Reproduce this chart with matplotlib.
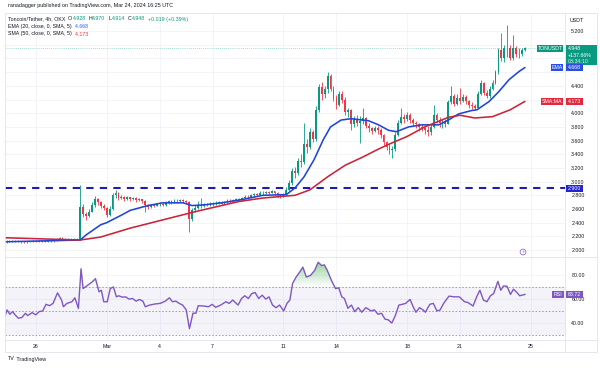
import numpy as np
import pandas as pd
import matplotlib
matplotlib.use("Agg")
import matplotlib.pyplot as plt
from matplotlib.patches import Rectangle
from matplotlib.lines import Line2D
from matplotlib.path import Path
from matplotlib.colors import LinearSegmentedColormap

plt.rcParams['font.family'] = ['Liberation Sans', 'DejaVu Sans']

# ---- data (TON/USDT 4h) ----
start = pd.Timestamp('2024-02-24 04:00')
first_open = 2.09
close = [
    2.11, 2.13, 2.12, 2.13, 2.12, 2.13, 2.12, 2.11, 2.12, 2.12,
    2.13, 2.12, 2.13, 2.12, 2.12, 2.13, 2.14, 2.13, 2.16, 2.18,
    2.16, 2.15, 2.16, 2.15, 2.16, 2.15, 2.63, 2.52, 2.50, 2.56,
    2.66, 2.74, 2.70, 2.65, 2.62, 2.51, 2.60, 2.80, 2.84, 2.76,
    2.78, 2.75, 2.77, 2.75, 2.76, 2.73, 2.74, 2.72, 2.66, 2.63,
    2.66, 2.65, 2.67, 2.68, 2.66, 2.69, 2.71, 2.70, 2.72, 2.71,
    2.73, 2.71, 2.70, 2.45, 2.58, 2.62, 2.66, 2.65, 2.67, 2.66,
    2.68, 2.67, 2.69, 2.70, 2.68, 2.70, 2.72, 2.71, 2.73, 2.74,
    2.73, 2.76, 2.78, 2.77, 2.80, 2.82, 2.81, 2.84, 2.83, 2.85,
    2.84, 2.86, 2.83, 2.80, 2.78, 2.82, 2.88, 2.98, 3.15, 3.12,
    3.30, 3.28, 3.55, 3.50, 3.72, 3.62, 4.05, 4.38, 4.28, 4.36,
    4.55, 4.36, 4.22, 4.12, 4.28, 4.20, 4.02, 4.04, 3.84, 3.92,
    3.86, 3.88, 3.93, 3.82, 3.78, 3.74, 3.78, 3.76, 3.68, 3.58,
    3.50, 3.46, 3.48, 3.68, 3.86, 3.95, 3.92, 3.98, 3.90, 3.86,
    3.84, 3.80, 3.78, 3.76, 3.72, 3.80, 3.98, 3.90, 3.85, 3.88,
    3.84, 4.16, 4.25, 4.14, 4.22, 4.18, 4.24, 4.18, 4.12, 4.10,
    4.08, 4.28, 4.44, 4.30, 4.25, 4.36, 4.44, 4.60, 4.92, 4.80,
    4.95, 4.96, 4.80, 4.96, 4.86, 4.86, 4.928, 4.948]
high = [
    2.12, 2.14, 2.14, 2.14, 2.14, 2.14, 2.13, 2.13, 2.13, 2.13,
    2.14, 2.14, 2.14, 2.14, 2.13, 2.14, 2.15, 2.15, 2.18, 2.19,
    2.19, 2.17, 2.17, 2.17, 2.17, 2.17, 2.95, 2.67, 2.55, 2.60,
    2.70, 2.79, 2.76, 2.71, 2.68, 2.63, 2.64, 2.83, 2.88, 2.85,
    2.80, 2.79, 2.79, 2.78, 2.78, 2.77, 2.76, 2.75, 2.73, 2.68,
    2.68, 2.68, 2.69, 2.70, 2.70, 2.71, 2.73, 2.73, 2.74, 2.74,
    2.75, 2.74, 2.73, 2.71, 2.62, 2.66, 2.72, 2.76, 2.69, 2.69,
    2.70, 2.70, 2.71, 2.72, 2.71, 2.72, 2.74, 2.74, 2.75, 2.76,
    2.76, 2.78, 2.80, 2.80, 2.82, 2.84, 2.84, 2.86, 2.86, 2.87,
    2.87, 2.88, 2.87, 2.85, 2.82, 2.84, 2.92, 3.02, 3.20, 3.22,
    3.35, 3.40, 3.85, 3.62, 3.78, 3.76, 4.10, 4.42, 4.45, 4.40,
    4.60, 4.58, 4.40, 4.26, 4.32, 4.32, 4.24, 4.08, 4.06, 3.96,
    3.98, 3.96, 4.08, 3.95, 3.86, 3.80, 3.82, 3.81, 3.78, 3.70,
    3.60, 3.55, 3.52, 3.72, 3.90, 4.07, 3.99, 4.02, 4.00, 3.93,
    3.88, 3.86, 3.84, 3.80, 3.82, 3.84, 4.12, 4.00, 3.94, 3.92,
    3.92, 4.20, 4.40, 4.28, 4.28, 4.37, 4.28, 4.26, 4.20, 4.16,
    4.14, 4.32, 4.48, 4.46, 4.34, 4.40, 4.48, 4.63, 4.96, 5.17,
    4.99, 5.29, 4.99, 5.14, 4.98, 4.95, 4.95, 4.970]
low = [
    2.08, 2.10, 2.11, 2.11, 2.11, 2.11, 2.10, 2.10, 2.10, 2.11,
    2.11, 2.11, 2.11, 2.11, 2.11, 2.12, 2.12, 2.12, 2.13, 2.15,
    2.15, 2.14, 2.14, 2.14, 2.14, 2.14, 2.14, 2.48, 2.44, 2.48,
    2.55, 2.63, 2.66, 2.62, 2.58, 2.48, 2.50, 2.58, 2.76, 2.73,
    2.74, 2.72, 2.73, 2.72, 2.73, 2.70, 2.71, 2.69, 2.55, 2.60,
    2.62, 2.63, 2.64, 2.65, 2.64, 2.65, 2.67, 2.68, 2.69, 2.69,
    2.70, 2.69, 2.68, 2.27, 2.42, 2.55, 2.60, 2.62, 2.63, 2.64,
    2.65, 2.65, 2.66, 2.67, 2.66, 2.67, 2.69, 2.69, 2.70, 2.71,
    2.71, 2.72, 2.75, 2.75, 2.76, 2.78, 2.79, 2.80, 2.81, 2.82,
    2.82, 2.83, 2.81, 2.78, 2.76, 2.77, 2.80, 2.86, 2.95, 3.05,
    3.10, 3.22, 3.26, 3.42, 3.48, 3.58, 3.60, 4.02, 4.20, 4.22,
    4.30, 4.32, 4.18, 4.06, 4.10, 4.15, 3.98, 3.95, 3.76, 3.80,
    3.82, 3.56, 3.84, 3.78, 3.72, 3.70, 3.72, 3.70, 3.64, 3.54,
    3.46, 3.40, 3.35, 3.45, 3.66, 3.84, 3.86, 3.88, 3.86, 3.82,
    3.78, 3.74, 3.74, 3.70, 3.66, 3.68, 3.78, 3.85, 3.80, 3.78,
    3.80, 3.84, 4.14, 4.10, 4.12, 4.14, 4.16, 4.14, 4.08, 4.06,
    4.05, 4.06, 4.26, 4.26, 4.22, 4.22, 4.34, 4.42, 4.58, 4.76,
    4.75, 4.82, 4.78, 4.78, 4.82, 4.80, 4.84, 4.914]

# moving averages, sampled at candle positions
ema_x = [0, 26, 28, 33, 35, 40, 43, 49, 54, 61, 64, 68, 74, 80, 88, 96, 99, 102,
         105.4, 108.5, 111, 114.6, 118, 123.9, 127.3, 130.7, 133.4, 137.5, 142,
         147.7, 151, 154.5, 159, 160.7, 164.8, 168, 171.6, 175, 177]
ema_v = [2.12, 2.146, 2.22, 2.37, 2.40, 2.51, 2.58, 2.65, 2.69, 2.69, 2.65, 2.66,
         2.69, 2.73, 2.80, 2.81, 2.91, 3.07, 3.32, 3.61, 3.80, 3.90, 3.92, 3.89,
         3.83, 3.75, 3.73, 3.80, 3.83, 3.83, 3.90, 3.99, 4.04, 4.05, 4.17, 4.31,
         4.49, 4.61, 4.668]
sma_x = [0, 26, 33, 43, 65, 80, 88, 99, 104, 110, 116, 122, 127, 131, 137, 143,
         151, 155, 160, 166, 172, 177]
sma_v = [2.18, 2.146, 2.19, 2.32, 2.56, 2.71, 2.76, 2.80, 2.88, 3.07, 3.24, 3.36,
         3.47, 3.55, 3.66, 3.80, 3.94, 3.97, 3.93, 3.95, 4.05, 4.173]

rsi_x = [0, 1.2, 2.1, 3.1, 3.9, 5, 6.2, 7.4, 8.2, 9.7,
         10.9, 12.1, 13.3, 14.4, 15.6, 16.8, 18.3, 19.7, 20.3, 21.5,
         23.2, 24.2, 25.4, 26.3, 27, 28.5, 30, 31.2, 32.4, 33.2,
         34, 35.2, 36.2, 37.3, 38.3, 39.1, 40.3, 41.4, 42.6, 43.8,
         45, 46.1, 47.3, 48.1, 49.6, 51.4, 53.2, 54.9, 56.3, 57.3,
         58.5, 59.6, 60.8, 62, 63.1, 64.3, 65.3, 66.1, 67.8, 69.6,
         70.8, 72, 73.7, 75.5, 76.6, 77.8, 79.6, 80.8, 81.9, 83.1,
         84.3, 85.4, 86.6, 87.8, 89, 90.1, 91.3, 92.5, 93.7, 95.1,
         96.2, 97.2, 98.1, 99.3, 100.5, 101.6, 102.8, 104.2, 105.6, 106.8,
         108, 108.9, 109.9, 111.3, 112.7, 113.8, 114.8, 115.7, 116.9, 118.1,
         119.2, 120.4, 121.6, 123, 124.8, 125.9, 127.1, 128.3, 129.5, 130.6,
         131.8, 133, 134.2, 135.3, 136.5, 138, 139.2, 140, 141.2, 142.4,
         143.2, 144.7, 145.9, 147.1, 148.2, 149.4, 151.2, 152.9, 154.7, 156.5,
         157.6, 159.4, 160.6, 161.7, 162.9, 164.1, 165.3, 166.4, 167.8, 168.8,
         169.7, 170.9, 172.1, 173.1, 174.3, 175.2, 177]
rsi_v = [42.4, 50.7, 47.1, 49.3, 46.6, 43.8, 44.3, 47.9, 46.0, 48.5,
         46.6, 49.3, 49.9, 55.4, 54.3, 56.2, 65.0, 59.0, 53.4, 56.2,
         57.6, 60.9, 52.0, 85.2, 68.6, 71.4, 74.1, 76.9, 65.9, 67.2,
         57.6, 57.6, 68.6, 70.0, 61.7, 62.6, 61.4, 61.7, 59.8, 60.3,
         58.1, 59.5, 58.1, 53.4, 54.8, 55.7, 56.2, 58.1, 60.9, 57.6,
         58.1, 56.2, 54.8, 50.7, 35.0, 48.0, 48.0, 54.3, 54.0, 53.4,
         55.4, 52.9, 54.8, 57.6, 56.2, 59.0, 54.8, 60.3, 62.6, 60.3,
         64.5, 65.3, 60.3, 63.1, 59.8, 61.7, 54.8, 52.6, 54.8, 49.9,
         56.2, 59.0, 72.8, 78.3, 82.4, 86.6, 78.3, 79.7, 83.8, 90.7,
         87.9, 88.5, 83.8, 75.5, 68.6, 69.2, 61.7, 60.3, 52.1, 54.8,
         49.3, 52.6, 48.8, 52.6, 49.9, 50.7, 47.1, 47.9, 43.0, 42.4,
         39.7, 46.0, 54.8, 55.4, 56.2, 59.5, 52.6, 48.8, 52.6, 50.7,
         48.8, 55.4, 56.2, 49.9, 50.7, 56.2, 62.3, 61.7, 61.7, 57.6,
         57.0, 54.0, 61.7, 67.2, 59.0, 57.6, 62.6, 64.5, 74.7, 67.2,
         70.8, 70.6, 63.7, 68.1, 65.3, 62.6, 63.72]

tick_dates = ['2024-02-26', '2024-03-01', '2024-03-04', '2024-03-07', '2024-03-11',
              '2024-03-14', '2024-03-18', '2024-03-21', '2024-03-25']
tick_labels = ['26', 'Mar', '4', '7', '11', '14', '18', '21', '25']
price_ticks = [2.0, 2.2, 2.4, 2.6, 2.8, 3.0, 3.2, 3.4, 3.6, 3.8, 4.0, 4.2, 4.4, 4.6, 4.8, 5.0, 5.2]
covered_ticks = [4.2, 4.6, 4.8, 5.0]   # hidden behind the value badges
rsi_ticks = [40, 60, 80]

GREEN = '#089981'
RED = '#f23645'
DARK = '#131722'
GRID = '#f0f3fa'
BORDER = '#e0e3eb'
EMA_C = '#1f45d6'
SMA_C = '#c8243a'
LEVEL_C = '#1c1cb0'
PURPLE = '#7e57c2'
FS = 3.8

W, H = 600, 368
fig = plt.figure(figsize=(6, 3.68), dpi=100)


def fx(p):
    return p / W


def fy(p):
    return 1 - p / H


ax = fig.add_axes([fx(5), fy(257), fx(565) - fx(5), fy(13) - fy(257)])
ax2 = fig.add_axes([fx(5), fy(340), fx(565) - fx(5), fy(257) - fy(340)], sharex=ax)

# candles
xi = np.arange(len(close))
c = np.array(close)
o = np.array([first_open] + close[:-1])
cols = np.where(c >= o, GREEN, RED)
ax.vlines(xi, low, high, colors=cols, lw=0.6, zorder=3)
ax.bar(xi, np.maximum(np.abs(c - o), 0.008), bottom=np.minimum(o, c), width=0.62,
       color=cols, linewidth=0, zorder=4)

ax.plot(ema_x, ema_v, color=EMA_C, lw=1.15, zorder=5, solid_capstyle='round')
ax.plot(sma_x, sma_v, color=SMA_C, lw=1.15, zorder=5, solid_capstyle='round')
ax.axhline(2.9, color=LEVEL_C, lw=1.5, ls=(0, (3.5, 3)), zorder=2)
ax.axhline(close[-1], color=GREEN, lw=0.5, ls=(0, (1, 2)), alpha=0.7, zorder=1)

tick_pos = [(pd.Timestamp(d) - start) / pd.Timedelta('4h') for d in tick_dates]

ax.set_xlim(0.48, 190.6)
ax.set_ylim(1.898, 5.465)
ax.set_yticks(price_ticks)
ax.set_yticklabels(['' if v in covered_ticks else '%.3f' % v for v in price_ticks])
ax.set_xticks(tick_pos)
ax.yaxis.tick_right()
ax.tick_params(axis='y', length=0, pad=4.5, labelsize=FS, colors=DARK)
ax.tick_params(axis='x', length=0, labelbottom=False)
ax.grid(True, color=GRID, lw=0.6)
ax.set_axisbelow(True)

# RSI pane
rx = np.array(rsi_x)
rv = np.array(rsi_v)
ax2.axhspan(30, 70, color=PURPLE, alpha=0.07, lw=0, zorder=1)
for lvl in (70, 50, 30):
    ax2.axhline(lvl, color='#9598a1', lw=0.6, ls=(0, (2, 2)), zorder=2)
poly = ax2.fill_between(rx, rv, 70, where=rv > 70, interpolate=True,
                        facecolor='none', edgecolor='none')
cmap = LinearSegmentedColormap.from_list('ob', [(0.30, 0.69, 0.31, 0.0), (0.30, 0.69, 0.31, 0.6)])
im = ax2.imshow(np.linspace(0, 1, 256).reshape(-1, 1), extent=(rx.min(), rx.max(), 70, 92),
                origin='lower', aspect='auto', cmap=cmap, zorder=2)
im.set_clip_path(Path.make_compound_path(*poly.get_paths()), transform=ax2.transData)
ax2.plot(rx, rv, color=PURPLE, lw=1.0, zorder=4)

ax2.set_xlim(0.48, 190.6)
ax2.set_ylim(25.5, 95.1)
ax2.set_yticks(rsi_ticks)
ax2.set_yticklabels(['%.2f' % v for v in rsi_ticks])
ax2.yaxis.tick_right()
ax2.set_xticks(tick_pos)
ax2.set_xticklabels(tick_labels)
ax2.tick_params(axis='y', length=0, pad=4.5, labelsize=FS, colors=DARK)
ax2.tick_params(axis='x', length=0, pad=3.2, labelsize=FS, colors=DARK)
ax2.grid(True, color=GRID, lw=0.6)
ax2.set_axisbelow(True)

for a in (ax, ax2):
    for s in a.spines.values():
        s.set_visible(False)

# frame and separators
fig.add_artist(Rectangle((fx(5), fy(352)), fx(597) - fx(5), fy(13) - fy(352),
                         transform=fig.transFigure, fill=False, ec=BORDER, lw=0.6))
for (x0, y0, x1, y1) in [(565, 13, 565, 352), (5, 257, 597, 257), (5, 340, 597, 340)]:
    fig.add_artist(Line2D([fx(x0), fx(x1)], [fy(y0), fy(y1)], transform=fig.transFigure,
                          color=BORDER, lw=0.6))


def ypix(a, v):
    return H - a.transData.transform((0, v))[1]


def badge(x0, x1, yc, text, color, h=7.2, center=False):
    fig.add_artist(Rectangle((fx(x0), fy(yc + h / 2)), (x1 - x0) / W, h / H,
                             transform=fig.transFigure, fc=color, ec='none', zorder=20))
    if center:
        fig.text(fx((x0 + x1) / 2), fy(yc), text, color='white', fontsize=FS,
                 ha='center', va='center', zorder=21)
    else:
        fig.text(fx(x0 + 1.5), fy(yc), text, color='white', fontsize=FS,
                 ha='left', va='center', zorder=21)


# last price badge
yp = ypix(ax, close[-1])
fig.add_artist(Rectangle((fx(566), fy(yp + 17)), 31 / W, 20.5 / H, transform=fig.transFigure,
                         fc=GREEN, ec='none', zorder=20))
fig.text(fx(567.5), fy(yp), '%.3f' % close[-1], color='white', fontsize=FS, va='center', zorder=21)
fig.text(fx(567.5), fy(yp + 6.8), '+137.66%', color='white', fontsize=FS, va='center', zorder=21)
fig.text(fx(567.5), fy(yp + 13.4), '03:34:10', color='#d8f0ec', fontsize=FS, va='center', zorder=21)
badge(537, 563, yp, 'TONUSDT', GREEN, center=True)

ye = ypix(ax, ema_v[-1])
badge(551, 563, ye, 'EMA', '#2a4fe0', center=True)
badge(566, 583, ye, '%.3f' % ema_v[-1], '#2a4fe0')
ys = ypix(ax, sma_v[-1])
badge(541, 563, ys, 'SMA:MA', '#e0283f', center=True)
badge(566, 583, ys, '%.3f' % sma_v[-1], '#e0283f')
badge(566, 583, ypix(ax, 2.9), '2.900', '#2323d0')
yr = ypix(ax2, rsi_v[-1])
badge(552, 564, yr, 'RSI', PURPLE, center=True)
badge(566, 583, yr, '%.2f' % rsi_v[-1], PURPLE)

fig.text(fx(570), fy(20), 'USDT', color=DARK, fontsize=FS, va='center')


# header texts
def chain(x, y, parts, size=FS):
    t = ax.annotate(parts[0][0], xy=(x, H - y), xycoords='figure pixels', color=parts[0][1],
                    fontsize=size, va='center', ha='left', annotation_clip=False)
    for s, col in parts[1:]:
        t = ax.annotate(s, xy=(1, 0.5), xycoords=t, color=col, fontsize=size,
                        va='center', ha='left', annotation_clip=False)


fig.text(fx(8), fy(5.5), 'ranadagger published on TradingView.com, Mar 24, 2024 16:25 UTC',
         color=DARK, fontsize=3.9, va='center')
chain(8, 19, [('Toncoin/Tether, 4h, OKX', DARK), ('  O', DARK), ('4.928', GREEN),
              ('  H', DARK), ('4.970', GREEN), ('  L', DARK), ('4.914', GREEN),
              ('  C', DARK), ('4.948', GREEN), ('  +0.019 (+0.39%)', GREEN)])
chain(8, 26.5, [('EMA (20, close, 0, SMA, 5)', DARK), ('  4.668', '#2962ff')])
chain(8, 34, [('SMA (50, close, 0, SMA, 5)', DARK), ('  4.173', RED)])
chain(8, 264, [('RSI (14, close, SMA, 14, 2)', DARK), ('  63.72', PURPLE),
               ('  \u2205  \u2205  \u2205  \u2205', '#787b86')])
chain(8, 359, [('TV', DARK), (' TradingView', DARK)], size=3.9)

fig.text(fx(523), fy(252), '\u26a1', color=PURPLE, fontsize=3.2, ha='center', va='center',
         family=['DejaVu Sans'],
         bbox=dict(boxstyle='circle,pad=0.2', fc='white', ec=PURPLE, lw=0.5))

fig.savefig('out.png', dpi=100, facecolor='white')
